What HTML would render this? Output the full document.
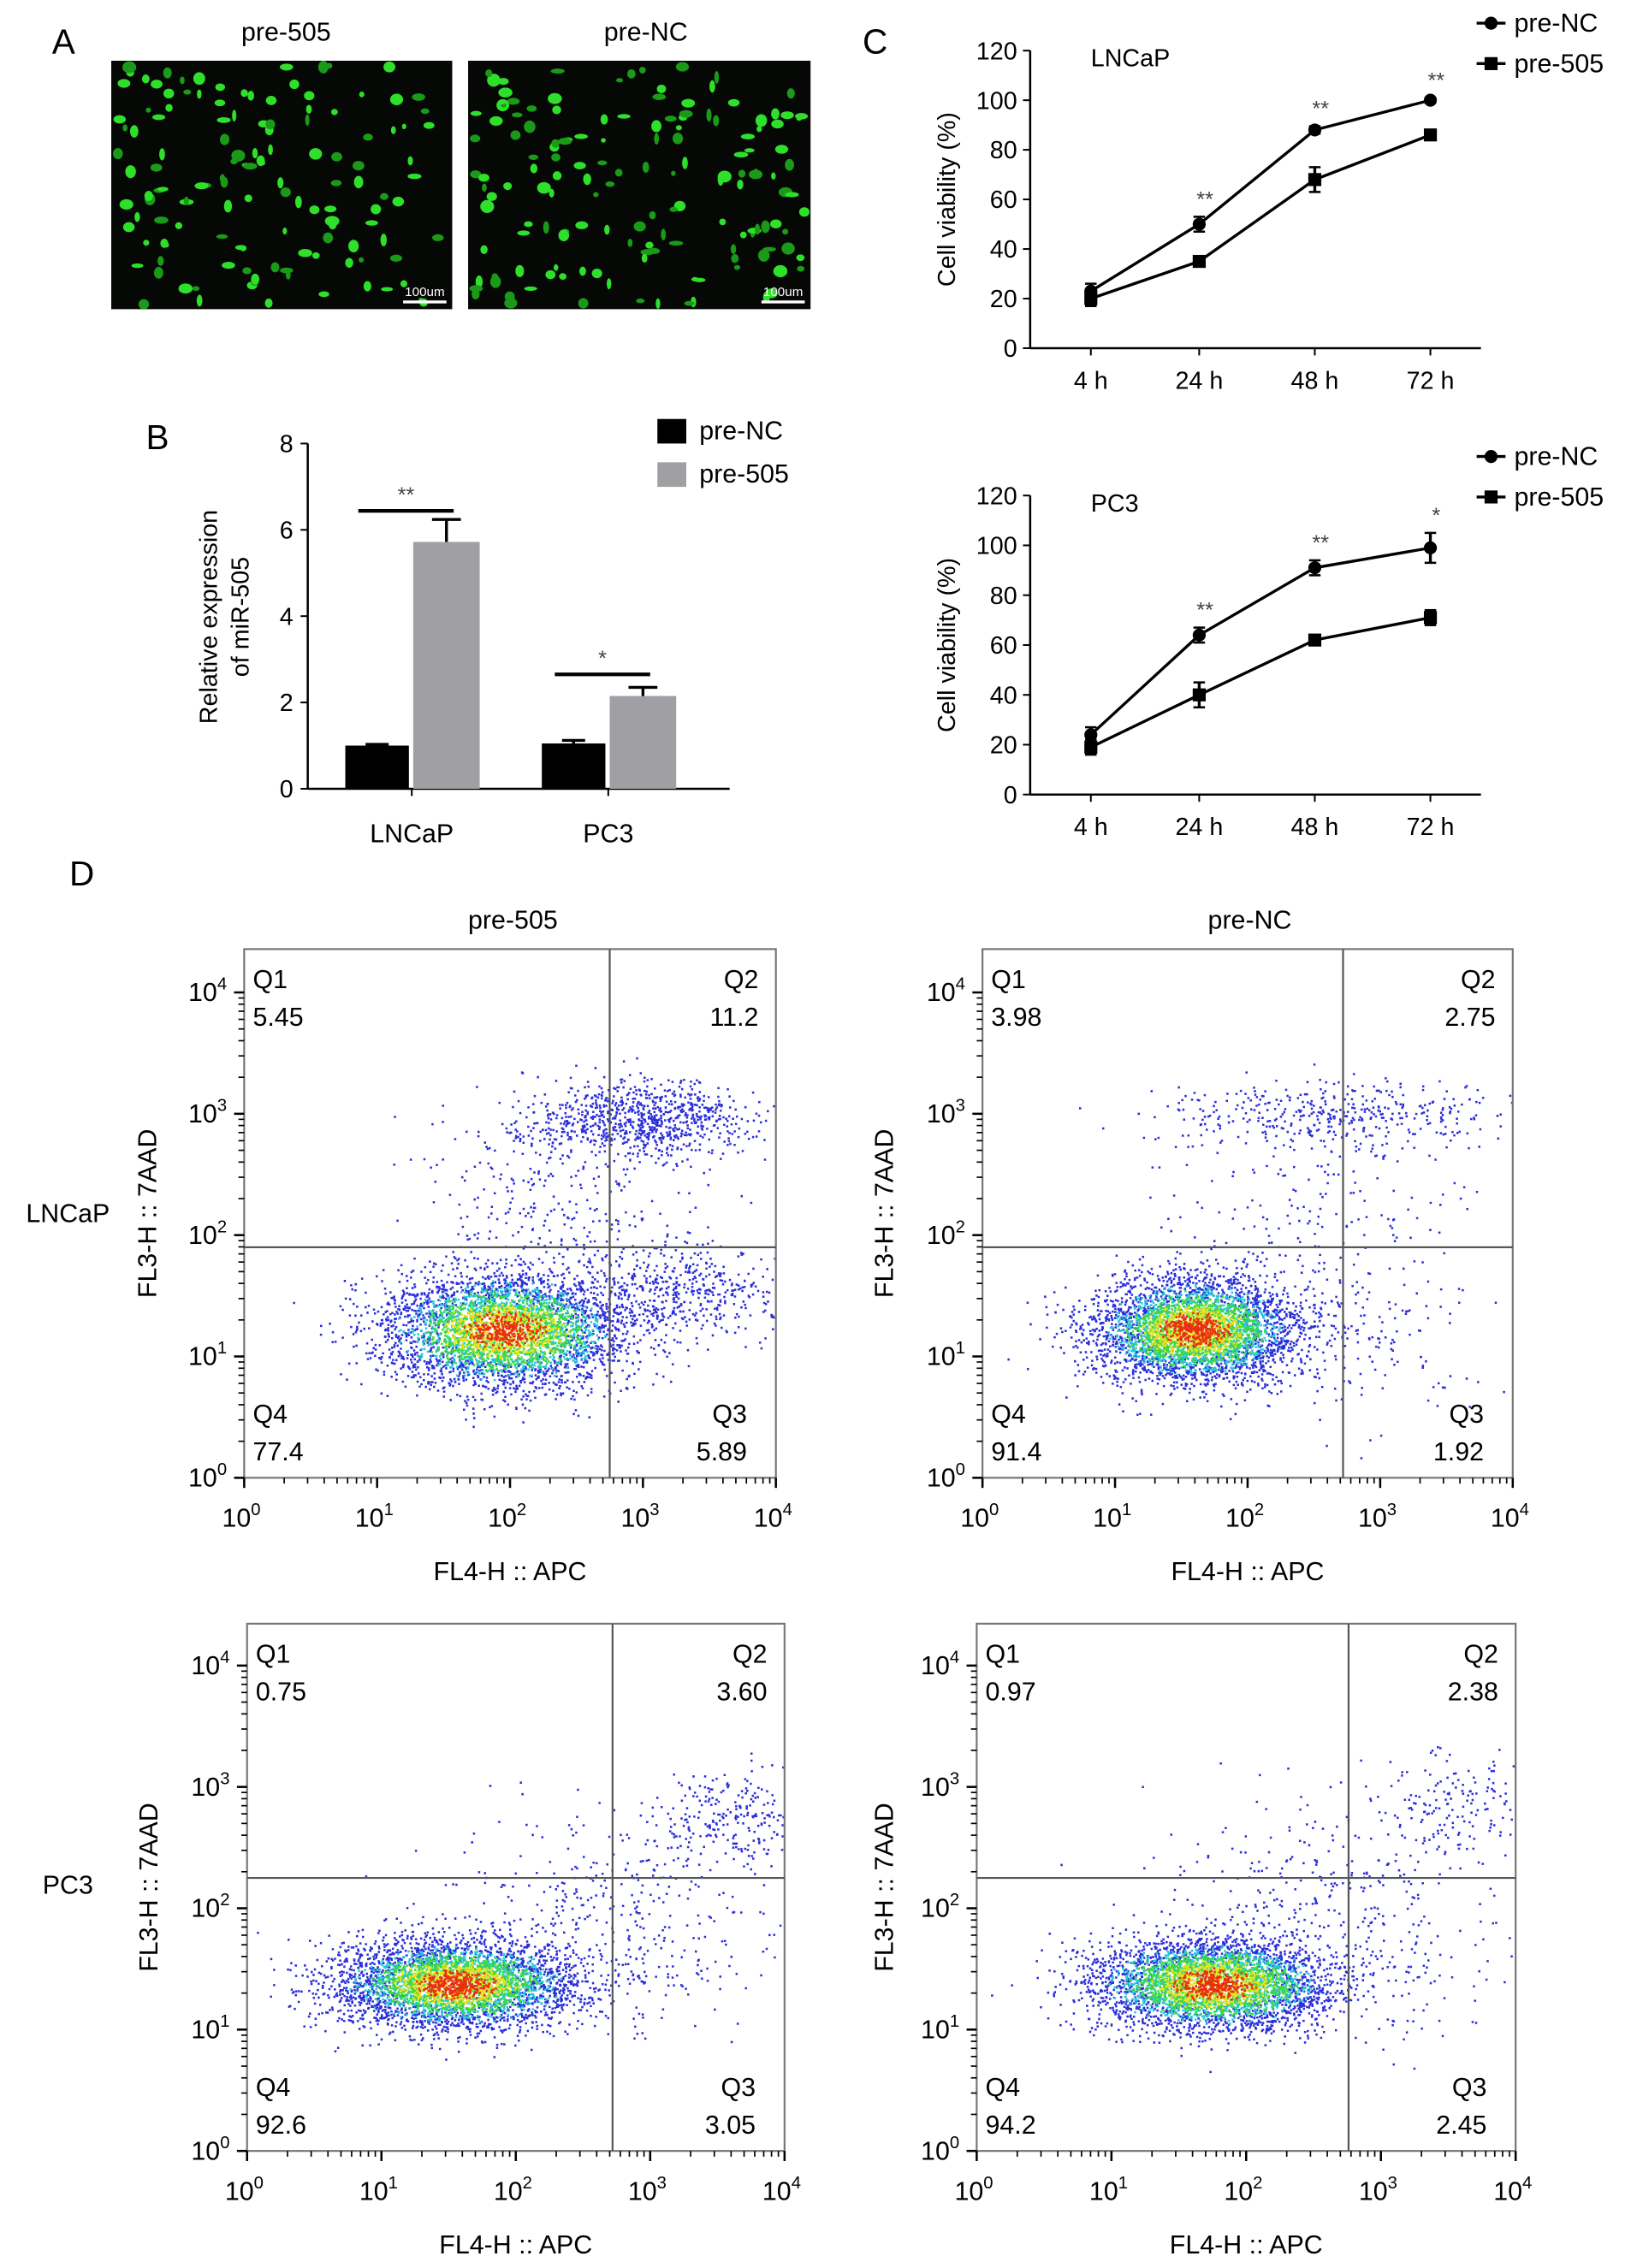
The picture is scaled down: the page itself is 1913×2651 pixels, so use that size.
<!DOCTYPE html>
<html><head><meta charset="utf-8">
<style>
html,body{margin:0;padding:0;background:#fff;}
svg{display:block;font-family:"Liberation Sans",Arial,sans-serif;}
</style></head>
<body>
<svg id="fig" width="1913" height="2651" viewBox="0 0 1133 1570" xmlns="http://www.w3.org/2000/svg">
<g id="panelA">
<text x="36" y="37" font-size="24">A</text>
<text x="198" y="28" font-size="18" text-anchor="middle">pre-505</text>
<text x="447" y="28" font-size="18" text-anchor="middle">pre-NC</text>
<rect x="77" y="42" width="236" height="172" fill="#050805"/>
<rect x="324" y="42" width="237" height="172" fill="#050805"/>
<g id="blobs"></g>
<line x1="279" y1="209" x2="309" y2="209" stroke="#fff" stroke-width="2"/>
<text x="294" y="205" font-size="9" fill="#fff" text-anchor="middle">100um</text>
<line x1="527" y1="209" x2="557" y2="209" stroke="#fff" stroke-width="2"/>
<text x="542" y="205" font-size="9" fill="#fff" text-anchor="middle">100um</text>
</g>
<g id="panelB"></g>
<g id="panelC"></g>
<g id="panelD"></g>
</svg>
<script>
// ---------- Panel B data ----------
const barGroups = ["LNCaP","PC3"];
const barNC = [1.0, 1.05];
const bar505 = [5.72, 2.15];
const errNC = [0.03, 0.07];
const err505 = [0.52, 0.2];
const barYTicks = [0,2,4,6,8];
// ---------- Panel C data ----------
const timeLabels = ["4 h","24 h","48 h","72 h"];
const lncapNC = [23, 50, 88, 100];
const lncap505 = [20, 35, 68, 86];
const lncapErrNC = [3, 3, 1.5, 1];
const lncapErr505 = [3, 2, 5, 2];
const pc3NC = [24, 64, 91, 99];
const pc3505 = [19, 40, 62, 71];
const pc3ErrNC = [3, 3, 3, 6];
const pc3Err505 = [3, 5, 2, 3];
const lncapStars = ["","**","**","**"];
const pc3Stars = ["","**","**","*"];
const viaYTicks = [0,20,40,60,80,100,120];
// ---------- Panel D data ----------
const quadNames = ["Q1","Q2","Q3","Q4"];
const quadLNCaP505 = ["5.45","11.2","5.89","77.4"];
const quadLNCaPNC = ["3.98","2.75","1.92","91.4"];
const quadPC3505 = ["0.75","3.60","3.05","92.6"];
const quadPC3NC = ["0.97","2.38","2.45","94.2"];
// gate positions in log10 units [x, y]
const gateLNCaP505 = [2.75, 1.9];
const gateLNCaPNC = [2.72, 1.9];
const gatePC3505 = [2.72, 2.25];
const gatePC3NC = [2.76, 2.25];
// clusters: [centerX(log), centerY(log), sdX, sdY, count, hot(0/1)]
const clustLNCaP505 = [[1.95,1.22,0.45,0.23,4400,1],[2.95,2.95,0.45,0.16,900,0],[2.4,2.3,0.5,0.35,250,0],[3.3,1.55,0.4,0.2,500,0]];
const clustLNCaPNC = [[1.6,1.22,0.38,0.21,4400,1],[2.65,3.0,0.65,0.14,420,0],[2.5,2.1,0.6,0.45,220,0],[2.9,1.1,0.35,0.35,120,0]];
const clustPC3505 = [[1.55,1.38,0.44,0.18,4400,1],[3.6,2.75,0.3,0.2,260,0],[2.6,2.1,0.6,0.35,280,0],[3.1,1.5,0.35,0.25,90,0]];
const clustPC3NC = [[1.75,1.38,0.44,0.19,4400,1],[3.55,2.85,0.3,0.2,180,0],[2.5,2.2,0.55,0.35,230,0],[3.2,1.5,0.4,0.35,90,0]];
// ---------- Panel A blobs: [count, seed] ----------
const blobLeft = [130, 11];
const blobRight = [150, 23];

const NS="http://www.w3.org/2000/svg";
function el(tag, attrs, parent, txt){const e=document.createElementNS(NS,tag);for(const k in attrs)e.setAttribute(k,attrs[k]);if(txt!==undefined)e.textContent=txt;parent.appendChild(e);return e;}
function rng(seed){let a=seed>>>0;return function(){a|=0;a=a+0x6D2B79F5|0;let t=Math.imul(a^a>>>15,1|a);t=t+Math.imul(t^t>>>7,61|t)^t;return((t^t>>>14)>>>0)/4294967296;};}
function gauss(r){let u=r()||1e-9,v=r();return Math.sqrt(-2*Math.log(u))*Math.cos(2*Math.PI*v);}

// Panel A blobs
(function(){
  const g=document.getElementById('blobs');
  [[77,42,236,172,blobLeft],[324,42,237,172,blobRight]].forEach(([x0,y0,w,h,b],idx)=>{
    const r=rng(b[1]);
    for(let i=0;i<b[0];i++){
      const c=el('ellipse',{cx:(x0+3+r()*(w-6)).toFixed(1),cy:(y0+3+r()*(h-6)).toFixed(1),rx:(1.5+r()*3.5).toFixed(1),ry:(1.5+r()*3).toFixed(1),fill:r()<0.6?'#2fe02a':'#1a9a18'},g);
      
      
    }
  });
})();

// Panel B
(function(){
  const g=document.getElementById('panelB');
  const x0=213,y0=546,y8=307;
  const ys=v=>y0-(v/8)*(y0-y8);
  el('text',{x:101,y:311,'font-size':24,},g,'B');
  el('line',{x1:x0,y1:y8,x2:x0,y2:y0,stroke:'#000','stroke-width':1.5,},g);
  el('line',{x1:x0,y1:y0,x2:505,y2:y0,stroke:'#000','stroke-width':1.5,},g);
  barYTicks.forEach(t=>{
    el('line',{x1:x0-5,y1:ys(t),x2:x0,y2:ys(t),stroke:'#000','stroke-width':1.2,},g);
    el('text',{x:x0-10,y:ys(t)+6,'font-size':17,'text-anchor':'end',},g,String(t));
  });
  const tx=el('text',{transform:'translate(150,427) rotate(-90)','font-size':17,'text-anchor':'middle',},g);
  el('tspan',{x:0,dy:0},tx,'Relative expression');
  el('tspan',{x:0,dy:22},tx,'of miR-505');
  const centers=[285,421];
  barGroups.forEach((name,i)=>{
    const c=centers[i];
    el('line',{x1:c,y1:y0,x2:c,y2:y0+5,stroke:'#000','stroke-width':1.2,},g);
    el('text',{x:c,y:583,'font-size':18,'text-anchor':'middle',},g,name);
    const w=44;
    el('rect',{x:c-w-2,y:ys(barNC[i]),width:w,height:y0-ys(barNC[i]),fill:'#000',},g);
    el('line',{x1:c-w/2-2,y1:ys(barNC[i]+errNC[i]),x2:c-w/2-2,y2:ys(barNC[i]),stroke:'#000','stroke-width':2,},g);
    el('line',{x1:c-w/2-10,y1:ys(barNC[i]+errNC[i]),x2:c-w/2+6,y2:ys(barNC[i]+errNC[i]),stroke:'#000','stroke-width':2,},g);
    el('rect',{x:c+1,y:ys(bar505[i]),width:w+2,height:y0-ys(bar505[i]),fill:'#a0a0a4',},g);
    el('line',{x1:c+24,y1:ys(bar505[i]+err505[i]),x2:c+24,y2:ys(bar505[i]),stroke:'#000','stroke-width':2,},g);
    el('line',{x1:c+14,y1:ys(bar505[i]+err505[i]),x2:c+34,y2:ys(bar505[i]+err505[i]),stroke:'#000','stroke-width':2,},g);
    const sy=ys(Math.max(barNC[i],bar505[i])+err505[i]+0.2*(i?1.5:1));
    el('line',{x1:c-37,y1:sy,x2:c+29,y2:sy,stroke:'#000','stroke-width':2.5,},g);
    el('text',{x:c-4,y:sy-6,'font-size':15,fill:'#444','text-anchor':'middle',},g,i?'*':'**');
  });
  el('rect',{x:455,y:290,width:20,height:17,fill:'#000',},g);
  el('text',{x:484,y:304,'font-size':18,},g,'pre-NC');
  el('rect',{x:455,y:320,width:20,height:17,fill:'#a0a0a4',},g);
  el('text',{x:484,y:334,'font-size':18,},g,'pre-505');
})();

// Panel C
function lineChart(g,top,bottom,title,nc,s505,eNC,e505,stars,legY,key){
  const x0=713,xr=1025;
  const ys=v=>bottom-(v/120)*(bottom-top);
  const xs=[755,830,910,990];
  el('line',{x1:x0,y1:top,x2:x0,y2:bottom,stroke:'#000','stroke-width':1.5,},g);
  el('line',{x1:x0,y1:bottom,x2:xr,y2:bottom,stroke:'#000','stroke-width':1.5,},g);
  viaYTicks.forEach(t=>{
    el('line',{x1:x0-5,y1:ys(t),x2:x0,y2:ys(t),stroke:'#000','stroke-width':1.2,},g);
    el('text',{x:x0-9,y:ys(t)+6,'font-size':17,'text-anchor':'end',},g,String(t));
  });
  timeLabels.forEach((t,i)=>{
    el('line',{x1:xs[i],y1:bottom,x2:xs[i],y2:bottom+5,stroke:'#000','stroke-width':1.2,},g);
    el('text',{x:xs[i],y:bottom+28,'font-size':17,'text-anchor':'middle',},g,t);
  });
  el('text',{transform:`translate(661,${(top+bottom)/2}) rotate(-90)`,'font-size':17,'text-anchor':'middle',},g,'Cell viability (%)');
  el('text',{x:755,y:top+11,'font-size':17,},g,title);
  [[nc,eNC,'pre-nc','c'],[s505,e505,'pre-505','s']].forEach(([vals,errs,nm,shape])=>{
    el('polyline',{points:vals.map((v,i)=>xs[i]+','+ys(v)).join(' '),fill:'none',stroke:'#000','stroke-width':2,},g);
    vals.forEach((v,i)=>{
      el('line',{x1:xs[i],y1:ys(v+errs[i]),x2:xs[i],y2:ys(v-errs[i]),stroke:'#000','stroke-width':2,},g);
      el('line',{x1:xs[i]-4,y1:ys(v+errs[i]),x2:xs[i]+4,y2:ys(v+errs[i]),stroke:'#000','stroke-width':1.5,},g);
      el('line',{x1:xs[i]-4,y1:ys(v-errs[i]),x2:xs[i]+4,y2:ys(v-errs[i]),stroke:'#000','stroke-width':1.5,},g);
      if(shape==='c') el('circle',{cx:xs[i],cy:ys(v),r:4.5,fill:'#000',},g);
      else el('rect',{x:xs[i]-4.5,y:ys(v)-4.5,width:9,height:9,fill:'#000',},g);
      if(nm==='pre-nc'&&stars[i]) el('text',{x:xs[i]+4,y:ys(v+errs[i])-7,'font-size':15,fill:'#444','text-anchor':'middle',},g,stars[i]);
    });
  });
  el('line',{x1:1022,y1:legY,x2:1042,y2:legY,stroke:'#000','stroke-width':2,},g);
  el('circle',{cx:1032,cy:legY,r:4.5,fill:'#000',},g);
  el('text',{x:1048,y:legY+6,'font-size':18,},g,'pre-NC');
  el('line',{x1:1022,y1:legY+28,x2:1042,y2:legY+28,stroke:'#000','stroke-width':2,},g);
  el('rect',{x:1027.5,y:legY+23.5,width:9,height:9,fill:'#000',},g);
  el('text',{x:1048,y:legY+34,'font-size':18,},g,'pre-505');
}
(function(){
  const g=document.getElementById('panelC');
  el('text',{x:597,y:37,'font-size':24,},g,'C');
  lineChart(g,35,241,'LNCaP',lncapNC,lncap505,lncapErrNC,lncapErr505,lncapStars,16,'lncap-viability');
  lineChart(g,343,550,'PC3',pc3NC,pc3505,pc3ErrNC,pc3Err505,pc3Stars,316,'pc3-viability');
})();

// Panel D
function flowPlot(g,L,T,R,B,quads,gate,clusters,seed,key,ylabX){
  const dx=(R-L)/4, dy=84;
  const X=v=>L+v*dx, Y=v=>B-v*dy;
  const pg=el('g',{},g);
  const r=rng(seed);
  const layers=[[],[],[],[],[]];
  clusters.forEach(c=>{
    for(let i=0;i<c[4];i++){
      const a=gauss(r),b=gauss(r);
      const lx=c[0]+a*c[2], ly=c[1]+b*c[3];
      const d=Math.sqrt(a*a+b*b)+ (r()-0.5)*0.9;
      let k=0;
      if(c[5]){ if(d<0.3)k=4; else if(d<0.65)k=3; else if(d<1.05)k=2; else if(d<1.4)k=1; }
      const px=X(lx),py=Y(ly);
      if(px<L+1||px>R-1||py<T+1||py>B-1)continue;
      layers[k].push(px.toFixed(1)+','+py.toFixed(1));
    }
  });
  const cols=['#2a2fd8','#25c8d8','#3cd840','#e8e020','#e83010'];
  layers.forEach((pts,k)=>{
    let d='';
    pts.forEach(p=>{const [x,y]=p.split(',');d+=`M${x} ${y}h1.5v1.5h-1.5z`;});
    el('path',{d:d,fill:cols[k],},pg);
  });
  el('rect',{x:L,y:T,width:R-L,height:B-T,fill:'none',stroke:'#777','stroke-width':1.3,},pg);
  el('line',{x1:X(gate[0]),y1:T,x2:X(gate[0]),y2:B,stroke:'#555','stroke-width':1.3,},pg);
  el('line',{x1:L,y1:Y(gate[1]),x2:R,y2:Y(gate[1]),stroke:'#555','stroke-width':1.3,},pg);
  for(let dec=0;dec<4;dec++){for(let m=1;m<10;m++){const v=dec+Math.log10(m);
    const len=m===1?7:4;
    el('line',{x1:X(v),y1:B,x2:X(v),y2:B+len,stroke:'#000','stroke-width':m===1?1.5:1,},pg);
    el('line',{x1:L-len,y1:Y(v),x2:L,y2:Y(v),stroke:'#000','stroke-width':m===1?1.5:1,},pg);
  }}
  el('line',{x1:R,y1:B,x2:R,y2:B+7,stroke:'#000','stroke-width':1.5,},pg);
  el('line',{x1:L-7,y1:Y(4),x2:L,y2:Y(4),stroke:'#000','stroke-width':1.5,},pg);
  for(let e=0;e<=4;e++){
    const t=el('text',{x:X(e)-2,y:B+34,'font-size':18,'text-anchor':'middle',},pg,'10');
    el('tspan',{dy:-8,'font-size':12},t,String(e));
    const t2=el('text',{x:L-12,y:Y(e)+6,'font-size':18,'text-anchor':'end',},pg,'10');
    el('tspan',{dy:-8,'font-size':12},t2,String(e));
  }
  el('text',{x:(L+R)/2,y:B+71,'font-size':18,'text-anchor':'middle',},pg,'FL4-H :: APC');
  el('text',{transform:`translate(${ylabX},${(T+B)/2}) rotate(-90)`,'font-size':18,'text-anchor':'middle',},pg,'FL3-H :: 7AAD');
  const fs=18;
  el('text',{x:L+6,y:T+27,'font-size':fs,},pg,quadNames[0]);
  el('text',{x:L+6,y:T+53,'font-size':fs,},pg,quads[0]);
  el('text',{x:R-12,y:T+27,'font-size':fs,'text-anchor':'end',},pg,quadNames[1]);
  el('text',{x:R-12,y:T+53,'font-size':fs,'text-anchor':'end',},pg,quads[1]);
  el('text',{x:R-20,y:B-38,'font-size':fs,'text-anchor':'end',},pg,quadNames[2]);
  el('text',{x:R-20,y:B-12,'font-size':fs,'text-anchor':'end',},pg,quads[2]);
  el('text',{x:L+6,y:B-38,'font-size':fs,},pg,quadNames[3]);
  el('text',{x:L+6,y:B-12,'font-size':fs,},pg,quads[3]);
}
(function(){
  const g=document.getElementById('panelD');
  el('text',{x:48,y:613,'font-size':24,},g,'D');
  el('text',{x:355,y:643,'font-size':18,'text-anchor':'middle',},g,'pre-505');
  el('text',{x:865,y:643,'font-size':18,'text-anchor':'middle',},g,'pre-NC');
  el('text',{x:47,y:846,'font-size':18,'text-anchor':'middle',},g,'LNCaP');
  el('text',{x:47,y:1311,'font-size':18,'text-anchor':'middle',},g,'PC3');
  flowPlot(g,169,657,537,1023,quadLNCaP505,gateLNCaP505,clustLNCaP505,101,'flow-lncap-pre-505',108);
  flowPlot(g,680,657,1047,1023,quadLNCaPNC,gateLNCaPNC,clustLNCaPNC,202,'flow-lncap-pre-nc',618);
  flowPlot(g,171,1124,543,1489,quadPC3505,gatePC3505,clustPC3505,303,'flow-pc3-pre-505',109);
  flowPlot(g,676,1124,1049,1489,quadPC3NC,gatePC3NC,clustPC3NC,404,'flow-pc3-pre-nc',618);
})();
</script>
</body></html>
